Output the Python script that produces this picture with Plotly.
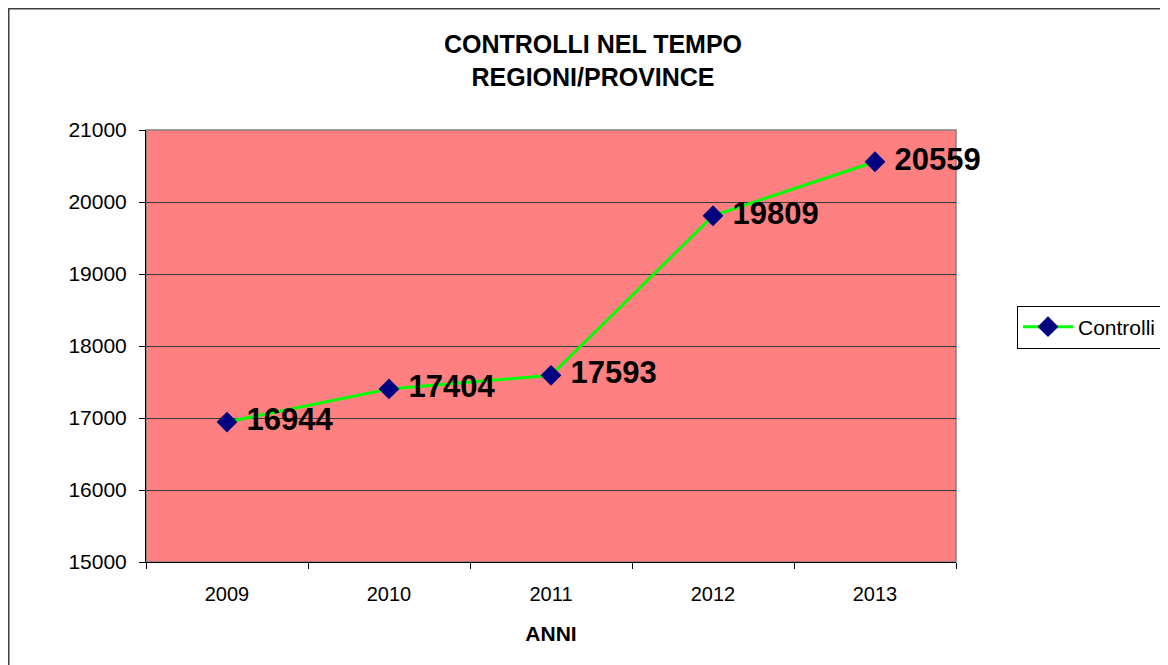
import plotly.graph_objects as go

anni = ["2009", "2010", "2011", "2012", "2013"]
controlli = [16944, 17404, 17593, 19809, 20559]
y_ticks = [15000, 16000, 17000, 18000, 19000, 20000, 21000]

FONT = "Liberation Sans, Arial, sans-serif"

# page has an 8px body margin: work in page pixels, convert to figure pixels
OFF = 8
W, H = 1168 - OFF, 665 - OFF
L, T = 146 - OFF, 130 - OFF
pw, ph = 810, 432
R, B = W - L - pw, H - T - ph

def px(x):
    return (x - OFF - L) / pw

def py(y):
    return (T + ph - (y - OFF)) / ph

fig = go.Figure()
fig.add_trace(go.Scatter(
    x=anni, y=controlli, mode="lines+markers+text", name="Controlli",
    line=dict(color="#00FF00", width=3),
    marker=dict(symbol="diamond", size=16, color="#000080",
                line=dict(color="#000080", width=0)),
    text=[" " + str(v) for v in controlli], textposition="middle right",
    textfont=dict(family=FONT, size=31, color="#000000", weight="bold"),
    cliponaxis=False,
))

fig.update_layout(
    width=W, height=H,
    margin=dict(l=L, r=R, t=T, b=B, autoexpand=False),
    paper_bgcolor="white", plot_bgcolor="#FF8080",
    font=dict(family=FONT, color="#000000"),
    title=dict(text="<b>CONTROLLI NEL TEMPO<br>REGIONI/PROVINCE</b>",
               font=dict(family=FONT, size=25, color="#000000"),
               x=(593 - OFF) / W, xanchor="center", xref="container",
               y=1 - (53 - OFF) / H, yanchor="middle", yref="container"),
    xaxis=dict(type="category", range=[-0.5, len(anni) - 0.5],
               tickson="boundaries", ticks="outside", ticklen=6,
               tickcolor="#000000", showgrid=False, showline=True, linecolor="#000000",
               linewidth=1, tickfont=dict(family=FONT, size=20, color="#000000"),
               ticklabelstandoff=14,
               title=dict(text="<b>ANNI</b>", font=dict(family=FONT, size=21, color="#000000"),
                          standoff=22),
               zeroline=False),
    yaxis=dict(range=[15000, 21000], tickvals=y_ticks, tickformat="d",
               ticks="outside", ticklen=6,
               tickcolor="#000000", showgrid=True, gridcolor="#3a3a3a", gridwidth=1,
               showline=True, linecolor="#000000", linewidth=1,
               tickfont=dict(family=FONT, size=21, color="#000000"),
               ticklabelstandoff=8, zeroline=False),
    showlegend=True,
    legend=dict(x=px(1017), y=py(327), xanchor="left", yanchor="middle",
                bordercolor="#000000", borderwidth=1, bgcolor="white",
                font=dict(family=FONT, size=21, color="#000000"),
                itemwidth=50, tracegroupgap=0),
    shapes=[
        dict(type="rect", xref="paper", yref="paper", x0=0, x1=1, y0=0, y1=1,
             line=dict(color="#808080", width=1.5), layer="below"),
        dict(type="rect", xref="paper", yref="paper", x0=px(8.75), x1=px(1180),
             y0=py(680), y1=py(8.75), line=dict(color="#404040", width=1.5),
             fillcolor="rgba(0,0,0,0)"),
    ],
)

fig.write_html("out.html")
